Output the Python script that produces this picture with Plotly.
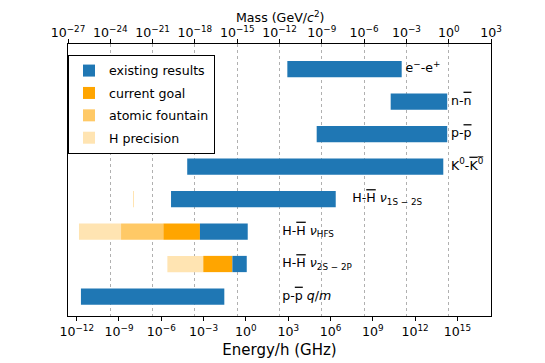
import numpy as np
import plotly.graph_objects as go

# conversion: 1 GeV/c^2  ->  E/h in GHz
GEV_IN_GHZ = 2.417989e14

OL = "<span style='text-decoration:overline'>{}</span>"

# rows, top to bottom
labels = [
    "e<sup>−</sup>-e<sup>+</sup>",
    "n-" + OL.format("n"),
    "p-" + OL.format("p"),
    "K<sup>0</sup>-" + OL.format("K<sup>0</sup>"),
    "H-" + OL.format("H") + " <i>ν</i><sub>1S − 2S</sub>",
    "H-" + OL.format("H") + " <i>ν</i><sub>HFS</sub>",
    "H-" + OL.format("H") + " <i>ν</i><sub>2S − 2P</sub>",
    "p-" + OL.format("p") + " <i>q</i>/<i>m</i>",
]

# bar extents, Energy/h in GHz
existing_start = [8.7e2, 1.86e10, 1.05e5, 6.9e-5, 4.9e-6, 5.5e-4, 0.11, 2.0e-12]
existing_end = [1.12e11, 1.9e14, 1.9e14, 1.0e14, 2.35e6, 1.35, 1.15, 0.0295]

goal_start = [None, None, None, None, None, 1.4e-6, 9.5e-4, None]
goal_end = [None, None, None, None, None, 5.5e-4, 0.11, None]

fountain_start = [None, None, None, None, None, 1.4e-9, None, None]
fountain_end = [None, None, None, None, None, 1.4e-6, None, None]

hprec_start = [None, None, None, None, 1.0e-8, 1.45e-12, 2.7e-6, None]
hprec_end = [None, None, None, None, 1.15e-8, 1.4e-9, 9.5e-4, None]

# where each row's label starts (GHz)
label_at = [2.1e11, 3.5e14, 3.5e14, 3.5e14, 3.5e7, 3.8e2, 3.8e2, 3.8e2]

energy_ticks = list(range(-12, 16, 3))   # log10 GHz
mass_ticks = list(range(-27, 4, 3))      # log10 GeV/c^2

mass_range = [-27, 3]
energy_range = [m + np.log10(GEV_IN_GHZ) for m in mass_range]

ypos = list(range(len(labels) - 1, -1, -1))

FONT = "DejaVu Sans"
FS = 12.6


def pow_text(k):
    return "10<sup>" + str(k).replace("-", "−") + "</sup>"


series = [
    ("existing results", "#1f77b4", existing_start, existing_end, 1),
    ("current goal", "#ffa500", goal_start, goal_end, 2),
    ("atomic fountain", "#ffc966", fountain_start, fountain_end, 3),
    ("H precision", "#ffe4b2", hprec_start, hprec_end, 4),
]

fig = go.Figure()

# pale ones first so existing results sit on top
for name, color, s, e, rank in reversed(series):
    length = [(b - a) if a is not None else None for a, b in zip(s, e)]
    fig.add_trace(go.Bar(
        y=ypos, x=length, base=s, orientation="h", width=0.5,
        marker=dict(color=color, line=dict(width=0)),
        name=name, legendgroup=name, legendrank=rank,
        hoverinfo="skip",
    ))

# row labels, placed on the mass axis so that axis gets drawn
fig.add_trace(go.Scatter(
    x=[v / GEV_IN_GHZ for v in label_at], y=ypos, xaxis="x2",
    mode="text", text=labels, textposition="middle right",
    textfont=dict(family=FONT, size=FS, color="black"),
    showlegend=False, hoverinfo="skip",
))

# top axis title as an annotation, kept just inside the top of the figure
fig.add_annotation(
    text="Mass (GeV/<i>c</i><sup>2</sup>)", xref="paper", yref="paper",
    x=0.5, y=1.1324, xanchor="center", yanchor="top", showarrow=False,
    borderpad=0,
    font=dict(family=FONT, size=FS, color="black"),
)

# the page body adds an 8px margin, so the figure is 8px smaller each way
fig.update_layout(
    width=537, height=355,
    margin=dict(l=60, r=54, t=36, b=47, autoexpand=False),
    plot_bgcolor="white", paper_bgcolor="white",
    font=dict(family=FONT, size=FS, color="black"),
    barmode="overlay",
    showlegend=True,
    legend=dict(
        x=0, y=0.96, xanchor="left", yanchor="top",
        bordercolor="black", borderwidth=1, bgcolor="white",
        font=dict(family=FONT, size=FS), tracegroupgap=3,
        traceorder="grouped",
    ),
    xaxis=dict(
        type="log", range=energy_range,
        tickvals=[10.0 ** k for k in energy_ticks],
        ticktext=[pow_text(k) for k in energy_ticks],
        showgrid=False, zeroline=False, automargin=False,
        showline=True, linecolor="black", linewidth=1, mirror=False,
        ticks="outside", ticklen=4, tickwidth=1, tickcolor="black",
        title=dict(text="Energy/h (GHz)", standoff=6),
    ),
    xaxis2=dict(
        type="log", range=mass_range,
        tickvals=[10.0 ** k for k in mass_ticks],
        ticktext=[pow_text(k) for k in mass_ticks],
        overlaying="x", side="top", anchor="y",
        showgrid=True, gridcolor="#b0b0b0", gridwidth=1, griddash="dot",
        zeroline=False, automargin=False,
        showline=True, linecolor="black", linewidth=1,
        ticks="outside", ticklen=4, tickwidth=1, tickcolor="black",
        ticklabelstandoff=-3,
    ),
    yaxis=dict(
        range=[-0.6, 7.77], showticklabels=False, ticks="", showgrid=False,
        zeroline=False, automargin=False,
        showline=True, linecolor="black", linewidth=1, mirror=True,
    ),
)

fig.write_html("out.html")
